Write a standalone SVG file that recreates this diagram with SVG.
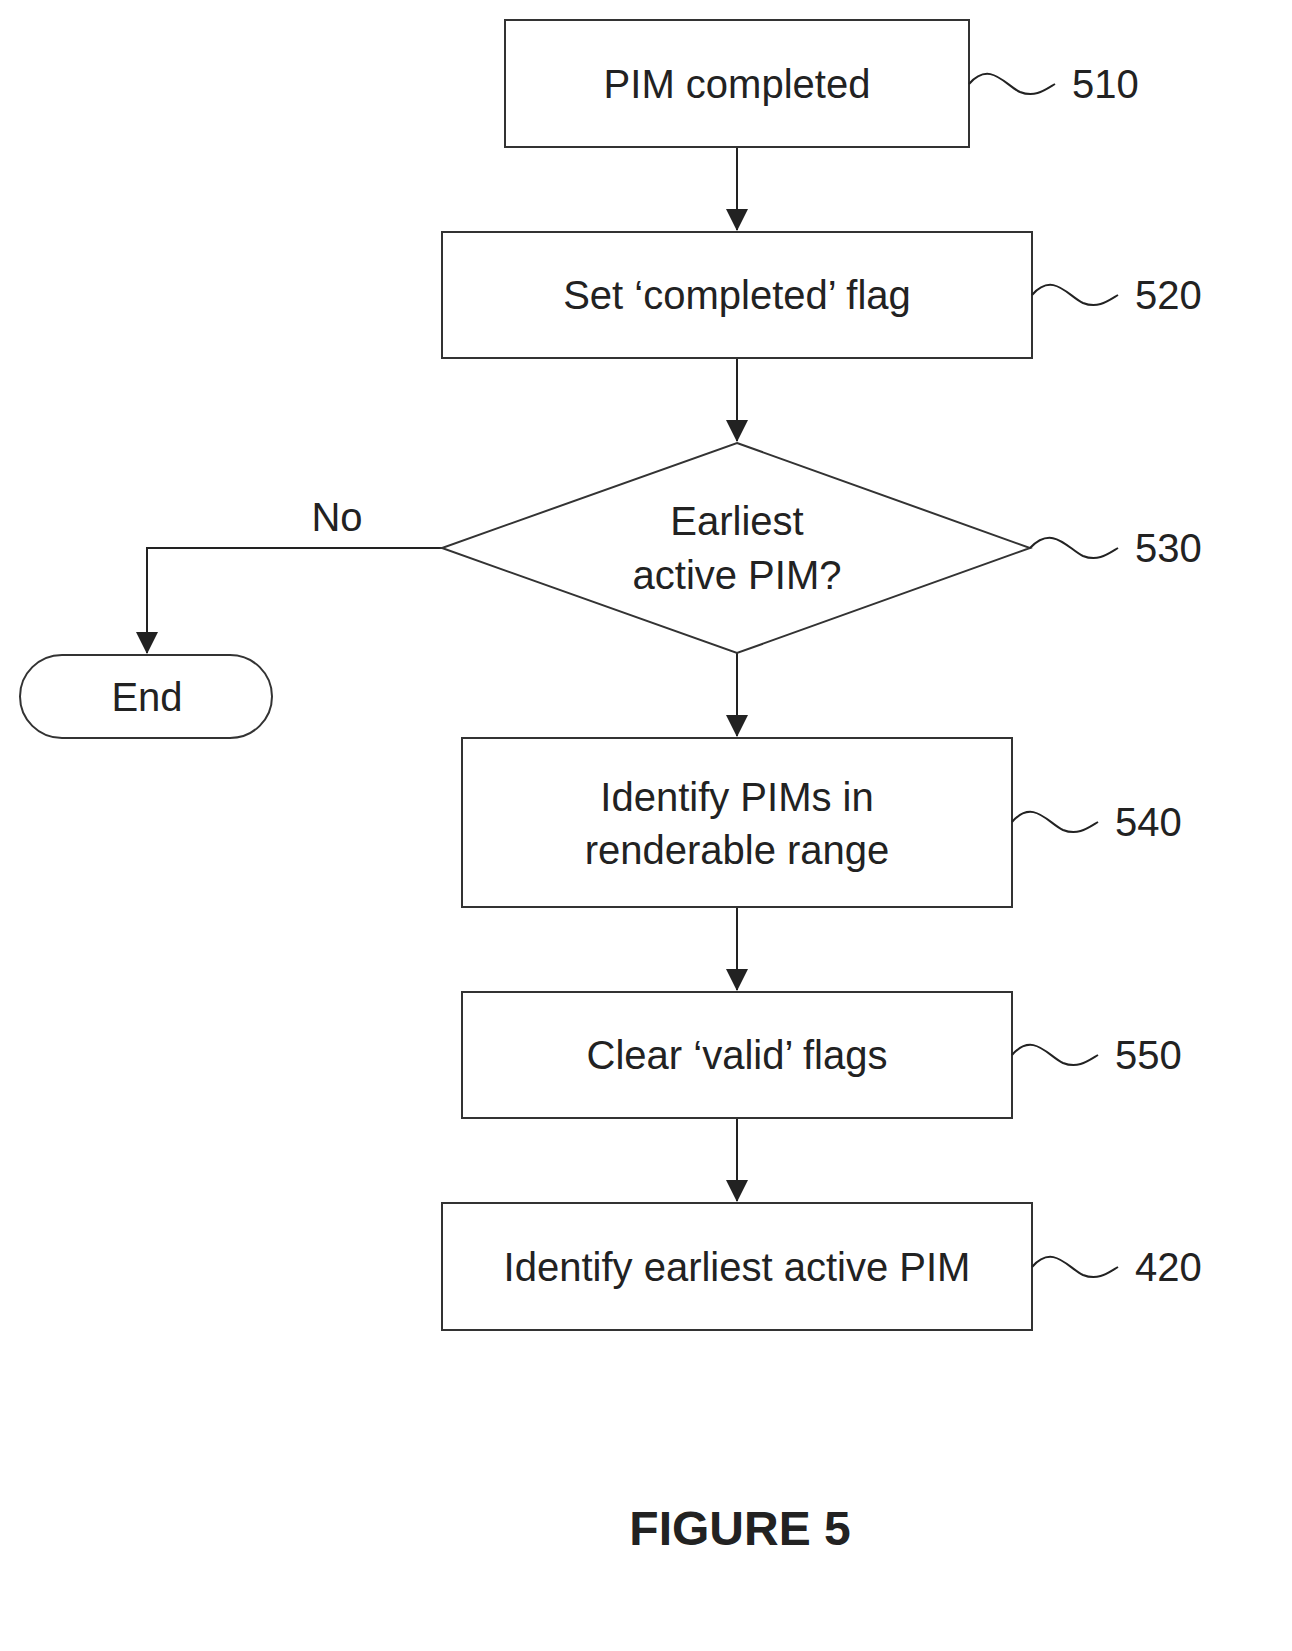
<svg xmlns="http://www.w3.org/2000/svg" width="1292" height="1651" viewBox="0 0 1292 1651">
<defs>
<marker id="ah" markerWidth="22" markerHeight="22" refX="21" refY="11" orient="auto" markerUnits="userSpaceOnUse"><path d="M0,0 L22,11 L0,22 z" fill="#222"/></marker>
<style>
.b{fill:#fff;stroke:#333;stroke-width:2}
.t{font-family:"Liberation Sans",Arial,sans-serif;font-size:40px;fill:#222;text-anchor:middle;dominant-baseline:central}
.r{font-family:"Liberation Sans",Arial,sans-serif;font-size:40px;fill:#222;dominant-baseline:central}
.c{fill:none;stroke:#222;stroke-width:2}
</style>
</defs>
<rect width="1292" height="1651" fill="#fff"/>
<g id="connectors">
<path class="c" d="M737,147 V230" marker-end="url(#ah)"/>
<path class="c" d="M737,358 V441" marker-end="url(#ah)"/>
<path class="c" d="M442,548 H147 V653" marker-end="url(#ah)"/>
<path class="c" d="M737,653 V736" marker-end="url(#ah)"/>
<path class="c" d="M737,907 V990" marker-end="url(#ah)"/>
<path class="c" d="M737,1118 V1201" marker-end="url(#ah)"/>
<text class="t" x="337" y="517">No</text>
</g>
<g id="n510"><rect class="b" x="505" y="20" width="464" height="127"/><text class="t" x="737" y="84">PIM completed</text>
<path class="c" d="M969,84 C990,60 1005,85 1020,92 C1035,98 1045,90 1055,84"/><text class="r" x="1072" y="84">510</text></g>
<g id="n520"><rect class="b" x="442" y="232" width="590" height="126"/><text class="t" x="737" y="295">Set ‘completed’ flag</text>
<path class="c" d="M1032,295 C1053,271 1068,296 1083,303 C1098,309 1108,301 1118,295"/><text class="r" x="1135" y="295">520</text></g>
<g id="n530"><polygon class="b" points="737,443 1030,548 737,653 442,548"/><text class="t" x="737" y="521">Earliest</text><text class="t" x="737" y="575">active PIM?</text>
<path class="c" d="M1030,548 C1053,524 1068,549 1083,556 C1098,562 1108,554 1118,548"/><text class="r" x="1135" y="548">530</text></g>
<g id="end"><rect class="b" x="20" y="655" width="252" height="83" rx="42"/><text class="t" x="147" y="697">End</text></g>
<g id="n540"><rect class="b" x="462" y="738" width="550" height="169"/><text class="t" x="737" y="797">Identify PIMs in</text><text class="t" x="737" y="850">renderable range</text>
<path class="c" d="M1012,822 C1033,798 1048,823 1063,830 C1078,836 1088,828 1098,822"/><text class="r" x="1115" y="822">540</text></g>
<g id="n550"><rect class="b" x="462" y="992" width="550" height="126"/><text class="t" x="737" y="1055">Clear ‘valid’ flags</text>
<path class="c" d="M1012,1055 C1033,1031 1048,1056 1063,1063 C1078,1069 1088,1061 1098,1055"/><text class="r" x="1115" y="1055">550</text></g>
<g id="n420"><rect class="b" x="442" y="1203" width="590" height="127"/><text class="t" x="737" y="1267">Identify earliest active PIM</text>
<path class="c" d="M1032,1267 C1053,1243 1068,1268 1083,1275 C1098,1281 1108,1273 1118,1267"/><text class="r" x="1135" y="1267">420</text></g>
<text class="t" x="740" y="1528" style="font-weight:bold;font-size:48px">FIGURE 5</text>
</svg>
